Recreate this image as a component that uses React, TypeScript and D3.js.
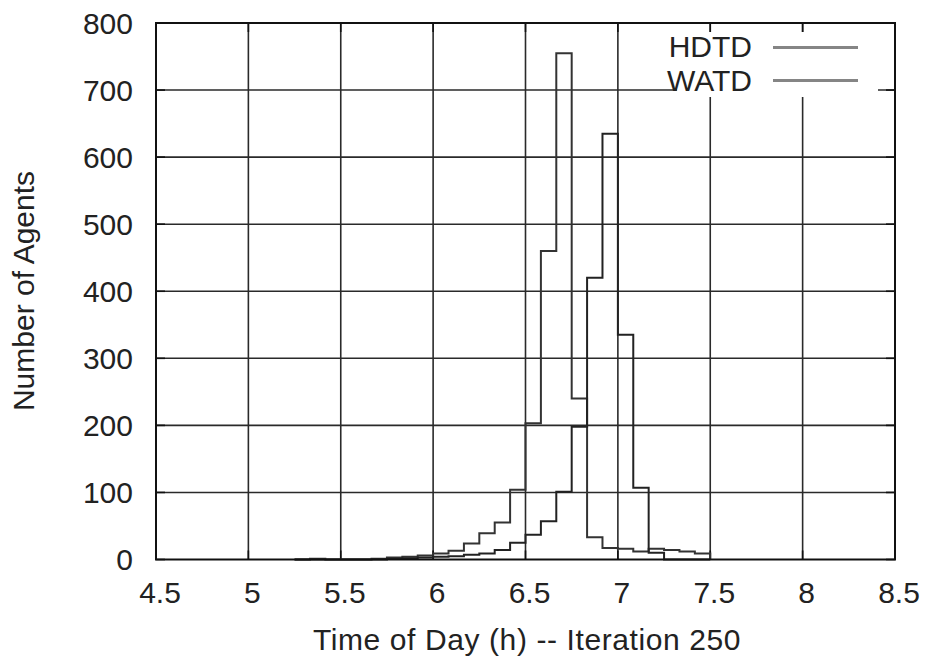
import React from "react";
import * as d3 from "d3";

// 5-minute histogram bins (start minute of day)
const binStartMinutes = [
  315, 320, 325, 330, 335, 340, 345, 350, 355, 360, 365, 370, 375, 380,
  385, 390, 395, 400, 405, 410, 415, 420, 425, 430, 435, 440, 445,
];
const binWidthMinutes = 5;

const hdtdValues = [
  0, 1, 0, 0, 0, 1, 3, 4, 6, 9, 13, 24, 39, 55,
  104, 203, 460, 755, 240, 33, 17, 16, 12, 16, 14, 12, 9,
];
const watdValues = [
  0, 0, 0, 0, 0, 0, 1, 2, 3, 4, 5, 7, 9, 14,
  25, 37, 57, 101, 198, 420, 635, 335, 107, 10, 0, 0, 0,
];

const seriesNames = ["HDTD", "WATD"];
const xTicks = [4.5, 5, 5.5, 6, 6.5, 7, 7.5, 8, 8.5];
const xTickLabels = ["4.5", "5", "5.5", "6", "6.5", "7", "7.5", "8", "8.5"];
const yTicks = [0, 100, 200, 300, 400, 500, 600, 700, 800];

const W = 925;
const H = 659;
const M = { left: 156, right: 895, top: 23, bottom: 559.5 };
const FONT = "'Liberation Sans', Arial, Helvetica, sans-serif";

export default function App() {
  const x = d3.scaleLinear().domain([4.5, 8.5]).range([M.left, M.right]);
  const y = d3.scaleLinear().domain([0, 800]).range([M.bottom, M.top]);

  const stepPath = (vals: number[]) => {
    const pts: [number, number][] = [];
    const s0 = binStartMinutes[0] / 60;
    pts.push([s0, 0]);
    vals.forEach((v, i) => pts.push([binStartMinutes[i] / 60, v]));
    const end = (binStartMinutes[binStartMinutes.length - 1] + binWidthMinutes) / 60;
    pts.push([end, 0]);
    return d3
      .line<[number, number]>()
      .x((d) => x(d[0]))
      .y((d) => y(d[1]))
      .curve(d3.curveStepAfter)(pts) as string;
  };

  const gridColor = "#2a2a2a";
  const tickLen = 9;
  const legendMask = { x0: 677, x1: 878, y0: 32, y1: 97 };

  return (
    <svg
      width={W}
      height={H}
      style={{ position: "absolute", left: 0, top: 0, background: "#fff" }}
      fontFamily={FONT}
    >
      <rect x={0} y={0} width={W} height={H} fill="#fff" />
      {/* grid */}
      <g stroke={gridColor} strokeWidth={1.6}>
        {xTicks.slice(1, -1).map((t) => (
          <line key={"gx" + t} x1={x(t)} x2={x(t)} y1={M.top} y2={M.bottom} />
        ))}
        {yTicks.slice(1, -1).map((v) => (
          <line key={"gy" + v} x1={M.left} x2={M.right} y1={y(v)} y2={y(v)} />
        ))}
      </g>
      {/* legend mask */}
      <rect
        x={legendMask.x0}
        y={legendMask.y0}
        width={legendMask.x1 - legendMask.x0}
        height={legendMask.y1 - legendMask.y0}
        fill="#fff"
      />
      {/* ticks on all borders */}
      <g stroke="#111" strokeWidth={1.6}>
        {xTicks.map((t) => (
          <g key={"tx" + t}>
            <line x1={x(t)} x2={x(t)} y1={M.bottom} y2={M.bottom - tickLen} />
            <line x1={x(t)} x2={x(t)} y1={M.top} y2={M.top + tickLen} />
          </g>
        ))}
        {yTicks.map((v) => (
          <g key={"ty" + v}>
            <line x1={M.left} x2={M.left + tickLen} y1={y(v)} y2={y(v)} />
            <line x1={M.right} x2={M.right - tickLen} y1={y(v)} y2={y(v)} />
          </g>
        ))}
      </g>
      {/* series */}
      <path d={stepPath(hdtdValues)} fill="none" stroke="#333" strokeWidth={2} />
      <path d={stepPath(watdValues)} fill="none" stroke="#222" strokeWidth={2} />
      {/* border */}
      <rect
        x={M.left}
        y={M.top}
        width={M.right - M.left}
        height={M.bottom - M.top}
        fill="none"
        stroke="#111"
        strokeWidth={2}
      />
      {/* tick labels */}
      <g fontSize={30} fill="#222">
        {yTicks.map((v) => (
          <text key={"ly" + v} x={133} y={y(v)} dy="0.35em" textAnchor="end">
            {v}
          </text>
        ))}
        {xTicks.map((t, i) => (
          <text key={"lx" + t} x={x(t) + 4} y={603} textAnchor="middle">
            {xTickLabels[i]}
          </text>
        ))}
      </g>
      {/* axis titles */}
      <text
        x={527}
        y={650}
        fontSize={30}
        fill="#222"
        textAnchor="middle"
        letterSpacing={0.6}
      >
        Time of Day (h) -- Iteration 250
      </text>
      <text
        transform="translate(34,291) rotate(-90)"
        fontSize={30}
        fill="#222"
        textAnchor="middle"
      >
        Number of Agents
      </text>
      {/* legend */}
      {seriesNames.map((name, i) => (
        <g key={name}>
          <text x={752} y={57 + i * 34} fontSize={30} fill="#222" textAnchor="end">
            {name}
          </text>
          <line
            x1={773}
            x2={858}
            y1={47.5 + i * 33}
            y2={47.5 + i * 33}
            stroke="#858585"
            strokeWidth={3}
          />
        </g>
      ))}
    </svg>
  );
}
